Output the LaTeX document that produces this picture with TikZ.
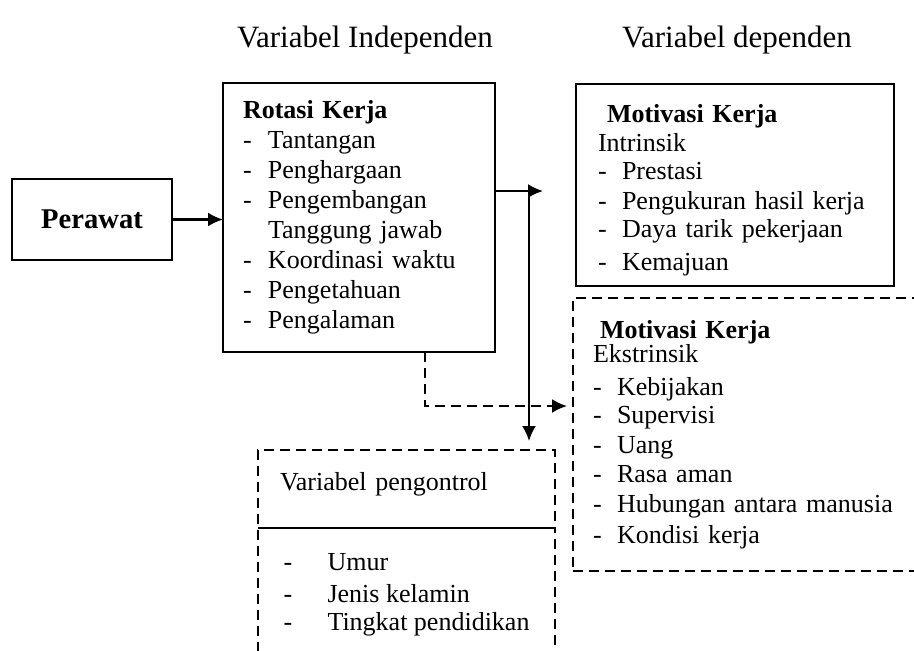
\documentclass[tikz,border=0pt]{standalone}
\usepackage{fontspec}
\setmainfont{Liberation Serif}
\usetikzlibrary{arrows.meta, positioning}
\newcommand{\butir}[2][12pt]{\makebox[#1][l]{-}#2}

\begin{document}
\begin{tikzpicture}[x=0.5pt, y=-0.5pt,
    box/.style={draw, line width=1.1pt, rectangle,
      align=left,
      inner ysep=4pt, outer sep=0pt,
      font=\fontsize{13}{15}\selectfont},
    dashbox/.style={box, dash pattern=on 5pt off 3pt},
    arr/.style={line width=1.1pt, -{Latex[length=7.5pt,width=7pt]}},
    title/.style={font=\fontsize{15.5}{18}\selectfont}]
  \useasboundingbox (0,0) rectangle (914,650);
  \clip (0,0) rectangle (914,650);

  % TITLES

  \node[title] (titleind) at (365,40) {Variabel Independen};
  \node[title] (titledep) at (737,40) {Variabel dependen};

  % BOXES

  \node[box, font=\fontsize{14.3}{17}\selectfont\bfseries,
    minimum width=80pt, minimum height=40.5pt] (perawat) at (92,219.5) {Perawat};

  \node[box, anchor=north west,
    text width=116pt, inner xsep=10pt,
    minimum height=134.5pt] (rotasi) at (223,83) {
    \textbf{Rotasi Kerja}\\
    \butir[12.5pt]{Tantangan}\\
    \butir[12.5pt]{Penghargaan}\\
    \butir[12.5pt]{Pengembangan}\\
    \hspace*{12.5pt}Tanggung jawab\\
    \butir[12.5pt]{Koordinasi waktu}\\
    \butir[12.5pt]{Pengetahuan}\\
    \butir[12.5pt]{Pengalaman}
  };

  \node[box, anchor=north west,
    text width=137pt, inner xsep=11pt,
    minimum height=101pt] (intr) at (576,84) {
    \rule{0pt}{14pt}\hspace*{4.5pt}\textbf{Motivasi Kerja}\\[-0.5pt]
    Intrinsik\\[-1pt]
    \butir{Prestasi}\\
    \butir{Pengukuran hasil kerja}\\[-1pt]
    \butir{Daya tarik pekerjaan}\\[1.5pt]
    \butir{Kemajuan}
  };

  \node[dashbox, anchor=north west,
    text width=155pt, inner xsep=10pt,
    minimum height=136.5pt] (extr) at (573,298) {
    \hspace*{3.5pt}\textbf{Motivasi Kerja}\\[-3pt]
    Ekstrinsik\\[1.5pt]
    \butir{Kebijakan}\\[-1pt]
    \butir{Supervisi}\\
    \butir{Uang}\\[-0.5pt]
    \butir{Rasa aman}\\
    \butir{Hubungan antara manusia}\\[0.5pt]
    \butir{Kondisi kerja}
  };

  % CONTROL VARIABLES

  \node[dashbox, anchor=north west,
    text width=126.5pt, inner xsep=11pt,
    minimum height=39pt] (ctrltop) at (258,450) {Variabel pengontrol\rule[-8pt]{0pt}{8pt}};

  \node[dashbox, anchor=north west,
    minimum width=148.5pt,
    minimum height=62pt] (ctrlbot) at (ctrltop.south west) {
    \rule{0pt}{13pt}\butir[22pt]{Umur}\\[1pt]
    \butir[22pt]{Jenis kelamin}\\[-1pt]
    \butir[22pt]{Tingkat pendidikan}
  };
  \draw[line width=1.1pt] (ctrltop.south west) -- (ctrltop.south east);

  % CONNECTORS

  \coordinate (split) at (529,191);
  \coordinate (intrtip) at (543,191);
  \coordinate (bend) at (425,406);

  \draw[arr] (perawat.east) -- (perawat.east -| rotasi.west);
  \draw[arr] (rotasi.east |- split) -- (intrtip);
  \draw[arr, shorten >=4.5pt] (split) -- (split |- ctrltop.north);
  \draw[arr, dash pattern=on 5pt off 3pt, shorten >=3pt]
    (bend |- rotasi.south) -- (bend) -- (bend -| extr.west);

\end{tikzpicture}
\end{document}
